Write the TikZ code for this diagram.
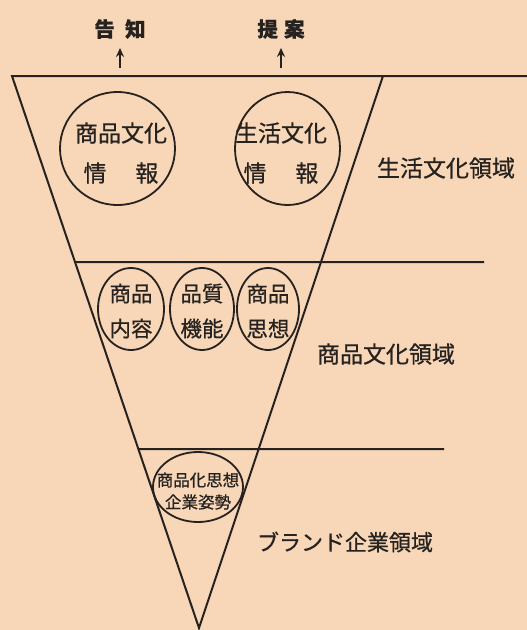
\documentclass[tikz,border=0pt]{standalone}
\usepackage{fontspec}
\setmainfont{Noto Sans CJK JP}[FakeBold=0.7]
\usetikzlibrary{shapes.geometric,arrows.meta,calc}
\definecolor{paper}{RGB}{248,214,184}
\definecolor{ink}{RGB}{38,34,32}
\tikzset{
  edge/.style={draw=ink, line width=2pt},
  ring/.style={ellipse, draw=ink, line width=1.8pt, inner sep=0pt},
  txt/.style={text=ink, inner sep=0pt, align=center},
  arr/.style={draw=ink, line width=2.2pt, -{Stealth[length=9pt,width=8pt]}},
}
\begin{document}
\begin{tikzpicture}[x=1pt,y=-1pt]
\fill[paper] (0,0) rectangle (527,630);
\useasboundingbox (0,0) rectangle (527,630);

% funnel
\coordinate (A) at (12,76);
\coordinate (B) at (383,76);
\coordinate (C) at (199,628);
\coordinate (TR) at (527,76);
\draw[edge, line join=miter] (TR) -- (A) -- (C) -- (B);
\coordinate (L2) at ($(A)!0.337!(C)$);
\coordinate (R2) at (484,262);
\coordinate (L3) at ($(A)!0.676!(C)$);
\coordinate (R3) at (444,449);
\draw[edge] (L2) -- (R2);
\draw[edge] (L3) -- (R3);

% top labels and arrows
\node[txt, font=\fontsize{20.5}{20}\selectfont\bfseries] (t1) at (120,29) {告\hspace{0.5em}知};
\node[txt, font=\fontsize{20.5}{20}\selectfont\bfseries] (t2) at (281,29) {提\hspace{0.3em}案};
\coordinate (a1) at (120,68);
\coordinate (a2) at (281,68);
\draw[arr] (a1) -- ($(t1.south)+(0,9)$);
\draw[arr] (a2) -- ($(t2.south)+(0,9)$);

% upper circles
\node[ring, minimum width=115pt, minimum height=113pt] (c1) at (117.5,148.5) {};
\node[ring, minimum width=105pt, minimum height=113pt] (c2) at (287.5,148.5) {};
\node[txt, font=\fontsize{23}{40}\selectfont] (c1t) at (121,153) {商品文化\\情\hspace{1.25em}報};
\node[txt, font=\fontsize{23}{40}\selectfont] (c2t) at (281,153) {生活文化\\情\hspace{1.25em}報};

% middle ellipses
\node[ring, minimum width=66pt, minimum height=82pt] (m1) at (131,309) {};
\node[ring, minimum width=64pt, minimum height=82pt] (m2) at (202,309) {};
\node[ring, minimum width=62pt, minimum height=82pt] (m3) at (268,309) {};
\node[txt, font=\fontsize{21.5}{35}\selectfont] (m1t) at (131,311) {商品\\内容};
\node[txt, font=\fontsize{21.5}{35}\selectfont] (m2t) at (202,311) {品質\\機能};
\node[txt, font=\fontsize{21.5}{35}\selectfont] (m3t) at (268,311) {商品\\思想};

% bottom ellipse
\node[ring, minimum width=90pt, minimum height=70pt] (b1) at (198,487) {};
\node[txt, font=\fontsize{16.5}{22}\selectfont] (b1t) at (198,491) {商品化思想\\企業姿勢};

% region labels
\node[txt, font=\fontsize{23}{23}\selectfont] (r1) at (446,168) {生活文化領域};
\node[txt, font=\fontsize{23}{23}\selectfont] (r2) at (386,354) {商品文化領域};
\node[txt, font=\fontsize{22}{22}\selectfont] (r3) at (345,542) {ブランド企業領域};
\end{tikzpicture}
\end{document}
